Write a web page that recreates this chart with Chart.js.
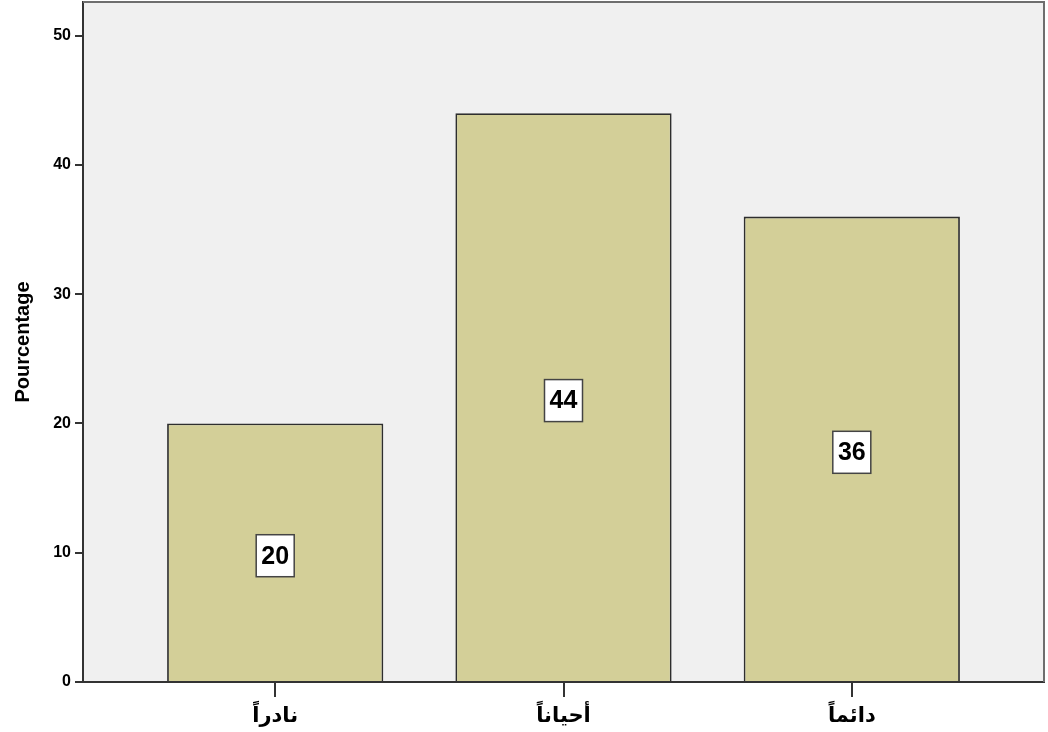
<!DOCTYPE html>
<html>
<head>
<meta charset="utf-8">
<script src="https://cdn.jsdelivr.net/npm/chart.js@4/dist/chart.umd.min.js"></script>
<style>
  html, body { margin: 0; padding: 0; background: #fff; }
  #wrap { width: 1048px; height: 732px; }
</style>
</head>
<body>
<div id="wrap"><canvas id="myChart"></canvas></div>
<script>
var categories = ['نادراً', 'أحياناً', 'دائماً']
var positions = [1, 2, 3]
var percents = [20, 44, 36]
var yTicks = [0, 10, 20, 30, 40, 50]

var fontFam = "Arial, 'Liberation Sans', 'DejaVu Sans', sans-serif"

// grey frame on top/right of the plot + value boxes in the middle of each bar
var frameAndLabels = {
    id: 'frameAndLabels',
    beforeDatasetsDraw: function (chart) {
        var ctx = chart.ctx
        var a = chart.chartArea
        ctx.save()
        ctx.strokeStyle = '#6e6e6e'
        ctx.lineWidth = 2
        ctx.beginPath()
        ctx.moveTo(a.left, a.top)
        ctx.lineTo(a.right, a.top)
        ctx.lineTo(a.right, a.bottom)
        ctx.stroke()
        ctx.restore()
    },
    afterDatasetsDraw: function (chart) {
        var ctx = chart.ctx
        var x = chart.scales.x
        var y = chart.scales.y
        ctx.save()
        ctx.font = 'bold 25px ' + fontFam
        ctx.textAlign = 'center'
        ctx.textBaseline = 'middle'
        for (var i = 0; i < percents.length; i++) {
            var cx = x.getPixelForValue(positions[i])
            var cy = y.getPixelForValue(percents[i] / 2) + 3
            var w = 38, h = 42
            ctx.fillStyle = '#ffffff'
            ctx.fillRect(cx - w / 2, cy - h / 2, w, h)
            ctx.strokeStyle = '#444'
            ctx.lineWidth = 1.5
            ctx.strokeRect(cx - w / 2, cy - h / 2, w, h)
            ctx.fillStyle = '#000'
            ctx.fillText(String(percents[i]), cx, cy + 1)
        }
        ctx.restore()
    }
}

var plotBg = {
    id: 'plotBg',
    beforeDraw: function (chart) {
        var a = chart.chartArea
        chart.ctx.save()
        chart.ctx.fillStyle = '#f0f0f0'
        chart.ctx.fillRect(a.left, a.top, a.right - a.left, a.bottom - a.top)
        chart.ctx.restore()
    }
}

const data = {
    datasets: [{
        label: 'Pourcentage',
        data: positions.map(function (p, i) { return { x: p, y: percents[i] } }),
        backgroundColor: '#d3cf98',
        borderColor: '#2e2e2e',
        borderWidth: 1.8,
        barPercentage: 0.75,
        categoryPercentage: 1
    }]
}

const config = {
    type: 'bar',
    data: data,
    options: {
        responsive: true,
        maintainAspectRatio: false,
        animation: false,
        layout: { padding: { top: 2, right: 4, left: 11, bottom: 0 } },
        plugins: {
            legend: { display: false },
            tooltip: { enabled: false }
        },
        scales: {
            x: {
                type: 'linear',
                offset: false,
                min: 1 - 192 / 288,
                max: 3 + 192 / 288,
                afterBuildTicks: function (scale) {
                    scale.ticks = positions.map(function (p) { return { value: p } })
                },
                afterFit: function (scale) {
                    scale.height = 50
                    scale.paddingLeft = 0
                    scale.paddingRight = 0
                },
                grid: { offset: false, drawOnChartArea: false, drawTicks: true, tickLength: 15, color: '#333', lineWidth: 2 },
                border: { display: true, color: '#333', width: 2 },
                ticks: {
                    autoSkip: false,
                    maxRotation: 0,
                    padding: 7,
                    color: '#000',
                    font: { family: fontFam, size: 21, weight: 'bold' },
                    callback: function (v) {
                        var i = positions.indexOf(v)
                        return i >= 0 ? categories[i] : ''
                    }
                }
            },
            y: {
                min: 0,
                max: 52.6,
                afterBuildTicks: function (scale) {
                    scale.ticks = yTicks.map(function (v) { return { value: v } })
                },
                afterFit: function (scale) {
                    scale.width = 72
                    scale.paddingTop = 0
                    scale.paddingBottom = 0
                },
                grid: { drawOnChartArea: false, drawTicks: true, tickLength: 8, color: '#333', lineWidth: 2 },
                border: { display: true, color: '#333', width: 2 },
                ticks: {
                    padding: 4,
                    color: '#000',
                    font: { family: fontFam, size: 16, weight: 'bold' }
                },
                title: {
                    display: true,
                    text: 'Pourcentage',
                    color: '#000',
                    padding: { top: 0, bottom: 0 },
                    font: { family: fontFam, size: 20, weight: 'bold' }
                }
            }
        }
    },
    plugins: [plotBg, frameAndLabels]
}

const myChart = new Chart(document.getElementById('myChart'), config)
</script>
</body>
</html>
